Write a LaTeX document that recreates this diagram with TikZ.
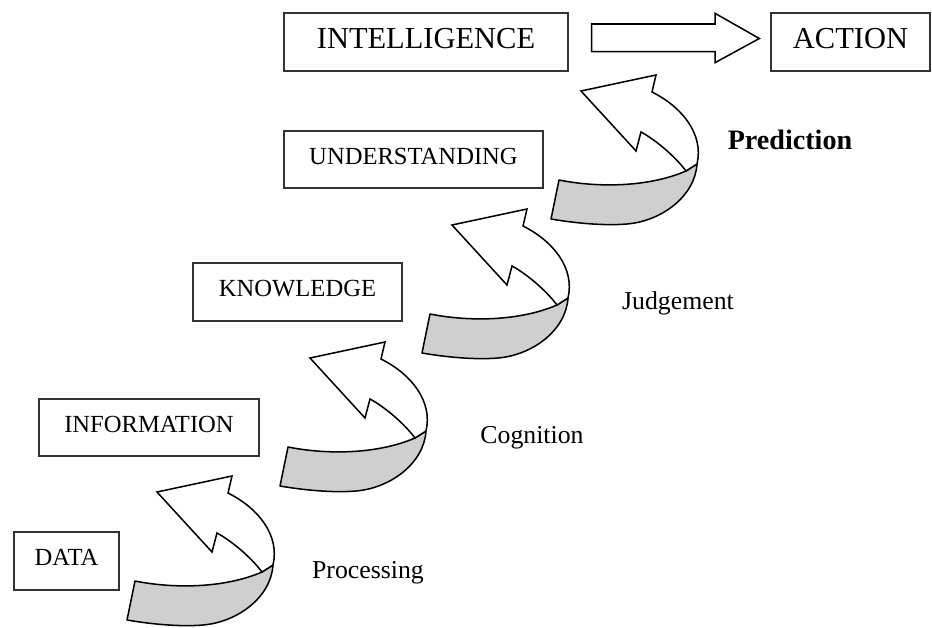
\documentclass[tikz,border=0pt]{standalone}
\usepackage{fontspec}
\setmainfont{Liberation Serif}
\definecolor{bandgray}{RGB}{207,207,207}

\begin{document}
\begin{tikzpicture}[x=0.03cm,y=-0.03cm,
  box/.style={draw=black!80, line width=1.6pt, inner sep=0pt, text depth=0.2cm,
    font=\fontsize{21}{24}\selectfont},
  bigbox/.style={box, font=\fontsize{26}{30}\selectfont},
  ribbon/.style={draw, line width=1.3pt, line join=round, fill=bandgray},
  shaft/.style={draw, line width=1.3pt, line join=miter, fill=white},
  stagelabel/.style={font=\fontsize{22}{26}\selectfont}]

  \useasboundingbox (0,0) rectangle (932,628);

  % The stages
  \node[box, minimum width=3.15cm, minimum height=1.74cm] (data) at (66.5,561) {DATA};
  \node[box, minimum width=6.6cm, minimum height=1.71cm] (info) at (149,427.5) {INFORMATION};
  \node[box, minimum width=6.27cm, minimum height=1.74cm] (know) at (297.5,292) {KNOWLEDGE};
  \node[box, minimum width=7.77cm, minimum height=1.71cm] (under) at (413.5,159.5) {UNDERSTANDING};
  \node[bigbox, minimum width=8.52cm, minimum height=1.74cm] (intel) at (426,42) {INTELLIGENCE};
  \node[bigbox, minimum width=4.77cm, minimum height=1.74cm] (action) at (850.5,42) {ACTION};

  % Block arrow to the action
  \draw[shaft] (591.7,24) -- (715,24) -- (715,13.3) -- (759.3,38.5)
    -- (715,62.7) -- (715,51.7) -- (591.7,51.7) -- cycle;

  % The curved arrows, one per step
  \foreach \dx/\dy in {0/0, 153/-134, 295/-267, 424/-401} {
    \begin{scope}[shift={(\dx,\dy)}]
      % gray back of the ribbon
      \draw[ribbon] (127,620) -- (135,581)
        .. controls (175,589) and (225,588) .. (262,572) -- (273,565)
        .. controls (271,597) and (238,622) .. (203,625)
        .. controls (180,627) and (150,624) .. (127,620) -- cycle;
      % white front with the head
      \draw[shaft] (262,572) .. controls (250,556) and (230,540) .. (217,533)
        -- (212,552) -- (157,492) -- (232,476) -- (228,493)
        .. controls (258,508) and (280,535) .. (273,565) -- cycle;
    \end{scope}
  }

  % Labels of the steps
  \node[stagelabel] (processing) at (368,573) {Processing};
  \node[stagelabel] (cognition) at (532,438) {Cognition};
  \node[stagelabel] (judgement) at (678,303) {Judgement};
  \node[stagelabel, font=\fontsize{24}{28}\selectfont\bfseries] (prediction) at (790,140) {Prediction};

\end{tikzpicture}
\end{document}
